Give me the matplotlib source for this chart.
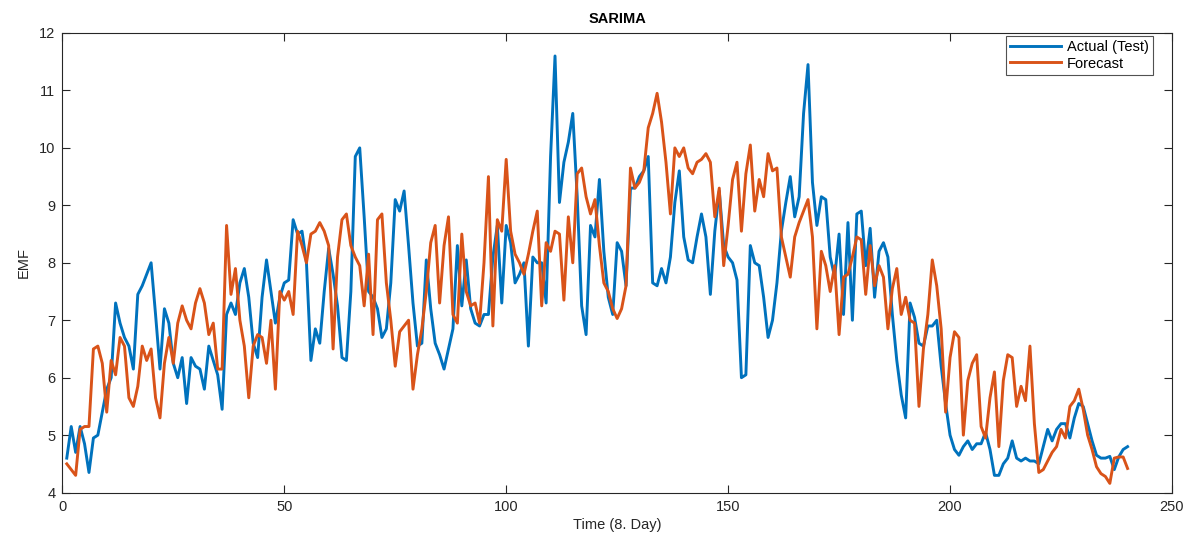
import numpy as np
import matplotlib
matplotlib.use("Agg")
import matplotlib.pyplot as plt

# ---- data ----
time_idx = list(range(1, 241))

actual = [
    4.6, 5.15, 4.7, 5.15, 4.85, 4.35, 4.95, 5.0, 5.4, 5.8,
    6.0, 7.3, 6.95, 6.7, 6.55, 6.15, 7.45, 7.6, 7.8, 8.0,
    7.1, 6.15, 7.2, 6.95, 6.25, 6.0, 6.35, 5.55, 6.35, 6.2,
    6.15, 5.8, 6.55, 6.3, 6.05, 5.45, 7.1, 7.3, 7.1, 7.65,
    7.9, 7.4, 6.6, 6.35, 7.4, 8.05, 7.5, 6.95, 7.4, 7.65,
    7.7, 8.75, 8.5, 8.55, 8.0, 6.3, 6.85, 6.6, 7.5, 8.25,
    7.8, 7.25, 6.35, 6.3, 7.5, 9.85, 10.0, 8.8, 7.5, 7.4,
    7.2, 6.7, 6.85, 7.65, 9.1, 8.9, 9.25, 8.3, 7.3, 6.55,
    6.6, 8.05, 7.2, 6.6, 6.4, 6.15, 6.5, 6.85, 8.3, 7.25,
    8.05, 7.2, 6.95, 6.9, 7.1, 7.1, 8.1, 8.65, 7.3, 8.65,
    8.35, 7.65, 7.8, 8.0, 6.55, 8.1, 8.0, 8.0, 7.3, 9.85,
    11.6, 9.05, 9.75, 10.1, 10.6, 9.15, 7.25, 6.75, 8.65, 8.45,
    9.45, 8.2, 7.4, 7.1, 8.35, 8.2, 7.6, 9.3, 9.3, 9.5,
    9.6, 9.85, 7.65, 7.6, 7.9, 7.65, 8.1, 9.05, 9.6, 8.45,
    8.05, 8.0, 8.45, 8.85, 8.45, 7.45, 8.55, 9.25, 8.3, 8.1,
    8.0, 7.7, 6.0, 6.05, 8.3, 8.0, 7.95, 7.4, 6.7, 7.0,
    7.65, 8.55, 9.05, 9.5, 8.8, 9.15, 10.6, 11.45, 9.4, 8.65,
    9.15, 9.1, 8.1, 7.75, 8.5, 7.1, 8.7, 7.0, 8.85, 8.9,
    7.95, 8.6, 7.4, 8.2, 8.35, 8.1, 7.1, 6.3, 5.7, 5.3,
    7.3, 7.05, 6.6, 6.55, 6.9, 6.9, 7.0, 6.2, 5.55, 5.0,
    4.75, 4.65, 4.8, 4.9, 4.75, 4.85, 4.85, 5.05, 4.75, 4.3,
    4.3, 4.5, 4.6, 4.9, 4.6, 4.55, 4.6, 4.55, 4.55, 4.5,
    4.8, 5.1, 4.9, 5.1, 5.2, 5.2, 4.95, 5.3, 5.55, 5.5,
    5.2, 4.9, 4.65, 4.6, 4.6, 4.63, 4.4, 4.62, 4.75, 4.8,
]

forecast = [
    4.5, 4.4, 4.3, 5.1, 5.15, 5.15, 6.5, 6.55, 6.25, 5.4,
    6.3, 6.05, 6.7, 6.55, 5.65, 5.5, 5.85, 6.55, 6.3, 6.5,
    5.65, 5.3, 6.25, 6.7, 6.25, 6.95, 7.25, 7.0, 6.85, 7.3,
    7.55, 7.3, 6.75, 6.95, 6.15, 6.15, 8.65, 7.45, 7.9, 7.0,
    6.55, 5.65, 6.55, 6.75, 6.7, 6.25, 7.0, 5.8, 7.5, 7.35,
    7.5, 7.1, 8.55, 8.3, 8.0, 8.5, 8.55, 8.7, 8.55, 8.3,
    6.5, 8.1, 8.75, 8.85, 8.3, 8.1, 7.95, 7.25, 8.15, 6.75,
    8.75, 8.85, 7.65, 7.0, 6.2, 6.8, 6.9, 7.0, 5.8, 6.4,
    6.85, 7.5, 8.35, 8.65, 7.3, 8.3, 8.8, 7.1, 6.95, 8.5,
    7.5, 7.25, 7.3, 6.95, 8.0, 9.5, 6.9, 8.75, 8.55, 9.8,
    8.55, 8.15, 8.0, 7.8, 8.15, 8.55, 8.9, 7.25, 8.35, 8.2,
    8.55, 8.5, 7.35, 8.8, 8.0, 9.55, 9.65, 9.15, 8.85, 9.1,
    8.3, 7.65, 7.5, 7.2, 7.03, 7.2, 7.6, 9.65, 9.3, 9.4,
    9.6, 10.35, 10.6, 10.95, 10.45, 9.75, 8.85, 10.0, 9.85, 10.0,
    9.65, 9.55, 9.75, 9.8, 9.9, 9.75, 8.8, 9.3, 7.95, 8.65,
    9.45, 9.75, 8.55, 9.55, 10.05, 8.9, 9.45, 9.15, 9.9, 9.6,
    9.65, 8.45, 8.1, 7.75, 8.45, 8.7, 8.9, 9.1, 8.45, 6.85,
    8.2, 7.95, 7.5, 7.95, 6.75, 7.75, 7.8, 8.1, 8.45, 8.4,
    7.45, 8.3, 7.6, 7.95, 7.75, 6.85, 7.55, 7.9, 7.1, 7.4,
    7.0, 6.95, 5.5, 6.5, 7.1, 8.05, 7.6, 6.85, 5.4, 6.35,
    6.8, 6.7, 5.0, 5.95, 6.25, 6.4, 5.15, 4.95, 5.65, 6.1,
    4.8, 5.95, 6.4, 6.35, 5.5, 5.85, 5.6, 6.55, 5.2, 4.35,
    4.4, 4.55, 4.7, 4.8, 5.1, 4.95, 5.5, 5.6, 5.8, 5.45,
    5.0, 4.75, 4.45, 4.33, 4.28, 4.16, 4.6, 4.62, 4.62, 4.42,
]

series_labels = ["Actual (Test)", "Forecast"]
x_ticks = [0, 50, 100, 150, 200, 250]
y_ticks = [4, 5, 6, 7, 8, 9, 10, 11, 12]

# ---- style ----
plt.rcParams['font.family'] = ['Liberation Sans', 'DejaVu Sans']
axis_gray = '#262626'
blue = '#0072BD'
orange = '#D95319'

fig = plt.figure(figsize=(11.92, 5.40), dpi=100)
ax = fig.add_axes([0.0523, 0.0878, 0.9309, 0.8511])

ax.plot(time_idx, actual, color=blue, lw=2.1, label=series_labels[0])
ax.plot(time_idx, forecast, color=orange, lw=2.1, label=series_labels[1])

ax.set_xlim(0, 250)
ax.set_ylim(4, 12)
ax.set_xticks(x_ticks)
ax.set_yticks(y_ticks)

for s in ax.spines.values():
    s.set_color(axis_gray)
    s.set_linewidth(0.8)
ax.tick_params(direction='in', length=6, width=0.8, colors=axis_gray,
               labelcolor=axis_gray, labelsize=10.5, top=True, right=True, pad=5)

ax.set_title("SARIMA", fontsize=10.5, fontweight='bold', color='#000000', pad=7)
ax.set_xlabel("Time (8. Day)", fontsize=10.5, color=axis_gray, labelpad=3)
ax.set_ylabel("EMF", fontsize=10.5, color=axis_gray, labelpad=6)

leg = ax.legend(loc='upper right', bbox_to_anchor=(0.983, 0.9935), borderaxespad=0,
                fontsize=10.5, frameon=True, fancybox=False, handlelength=3.5,
                handletextpad=0.4, borderpad=0.3, labelspacing=0.15)
leg.get_frame().set_edgecolor(axis_gray)
leg.get_frame().set_linewidth(0.8)
for t in leg.get_texts():
    t.set_color('#000000')

fig.savefig("out.png", dpi=100)
